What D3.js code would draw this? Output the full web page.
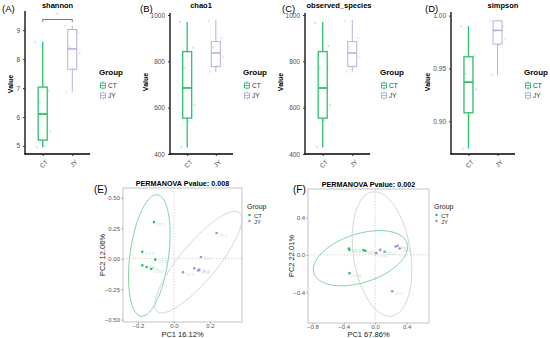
<!DOCTYPE html>
<html><head><meta charset="utf-8">
<script src="https://cdn.jsdelivr.net/npm/d3@7"></script>
<style>body{margin:0;background:#fff}svg{display:block;font-family:"Liberation Sans",Arial,sans-serif}</style>
</head><body><svg id="c" width="550" height="338"></svg>
<script>
const groups = ["CT","JY"];
const colCT = "#2fbf6b", colJY = "#b3a6d8";
// box stats: [lowWhisker, Q1, median, Q3, highWhisker]
const shannonStats = [[4.95,5.2,6.1,7.03,8.6],[6.85,7.65,8.35,9.02,9.15]];
const chao1Stats = [[428,555,685,842,970],[755,777,836,885,978]];
const observedStats = [[428,555,685,842,970],[755,777,836,885,978]];
const simpsonStats = [[0.874,0.908,0.937,0.961,0.990],[0.944,0.973,0.986,0.995,0.995]];
// jittered sample values and jitter offsets (in category units)
const shannonPts = [[8.6,6.9,6.5,5.5,5.0,4.95],[9.15,8.9,8.4,8.2,7.65,6.85]];
const chao1Pts = [[970,860,770,610,540,430],[975,900,860,820,780,755]];
const observedPts = [[965,865,770,610,545,430],[975,900,860,820,780,755]];
const simpsonPts = [[0.990,0.962,0.945,0.93,0.905,0.874],[0.995,0.99,0.985,0.978,0.972,0.944]];
const jitterOff = [-0.25,0.2,-0.1,0.25,0.05,-0.2];
const shannonTicks = [5,6,7,8,9];
const chaoTicks = [400,600,800,1000];
const simpsonTicks = [0.90,0.95,1.00];

// PCoA
const eCT = [[-0.111,0.30],[-0.176,0.057],[-0.104,-0.008],[-0.176,-0.055],[-0.152,-0.068],[-0.126,-0.085]];
const eJY = [[0.237,0.21],[0.15,0.014],[0.113,-0.079],[0.135,-0.098],[0.05,-0.112],[0.14,-0.09]];
const fCT = [[-0.336,0.068],[-0.328,0.053],[-0.149,0.05],[-0.123,0.043],[0.119,0.032],[-0.328,-0.196]];
const fJY = [[0.064,0.053],[0.26,0.089],[0.285,0.096],[0.31,0.068],[0.217,-0.39],[0.013,0.018]];
// ellipses: [centerX, centerY, Ax, Ay, Bx, By]
const eEllCT = [-0.137,0.026,0.041,0.499,0.108,0];
const eEllJY = [0.135,-0.029,0.204,0.417,0.13,0];
const fEllCT = [-0.187,-0.036,0.6,0.12,0,0.27];
const fEllJY = [0.087,0.009,-0.096,0.667,0.367,0];
const eXTicks = [-0.2,0.0,0.2], eYTicks = [-0.50,-0.25,0.00,0.25,0.50];
const fXTicks = [-0.8,-0.4,0.0,0.4], fYTicks = [-0.4,0.0,0.4];

const svg = d3.select("#c");

function boxPanel(o){
  const g = svg.append("g");
  const x = d3.scalePoint().domain(groups).range([o.x0,o.x1]).padding(0.6);
  const y = d3.scaleLinear().domain(o.dom).range([154,o.top]);
  o.pts.forEach((arr,gi)=>{
    arr.forEach((v,i)=>{
      g.append("circle").attr("cx",x(groups[gi])+jitterOff[i]*x.step()).attr("cy",y(v)).attr("r",1.2)
       .attr("fill",gi?colJY:colCT).attr("opacity",0.25);
    });
  });
  const bw = 9;
  o.stats.forEach((s,gi)=>{
    const cx = x(groups[gi]), col = gi?colJY:colCT, sw = gi?0.9:1.3;
    g.append("line").attr("x1",cx).attr("x2",cx).attr("y1",y(s[0])).attr("y2",y(s[1])).attr("stroke",col).attr("stroke-width",sw);
    g.append("line").attr("x1",cx).attr("x2",cx).attr("y1",y(s[3])).attr("y2",y(s[4])).attr("stroke",col).attr("stroke-width",sw);
    g.append("rect").attr("x",cx-bw/2).attr("y",y(s[3])).attr("width",bw).attr("height",y(s[1])-y(s[3]))
      .attr("fill","#fff").attr("fill-opacity",0).attr("stroke",col).attr("stroke-width",sw);
    g.append("line").attr("x1",cx-bw/2).attr("x2",cx+bw/2).attr("y1",y(s[2])).attr("y2",y(s[2])).attr("stroke",col).attr("stroke-width",sw+0.5);
  });
  const ya = g.append("g").attr("transform",`translate(${o.x0},0)`).call(d3.axisLeft(y).tickValues(o.ticks).tickSize(2).tickFormat(o.fmt));
  ya.select(".domain").attr("stroke","#000").attr("stroke-width",1.3).attr("d",`M0,${o.top-2}V154.5`);
  ya.selectAll(".tick line").attr("stroke","#333");
  ya.selectAll(".tick text").attr("font-size",6.5).attr("fill","#4d4d4d").attr("font-family","Liberation Sans, Arial");
  const xa = g.append("g").attr("transform","translate(0,154)").call(d3.axisBottom(x).tickSize(2));
  xa.select(".domain").attr("stroke","#000").attr("stroke-width",1.3).attr("d",`M${o.x0-0.5},0H${o.x1}`);
  xa.selectAll(".tick line").attr("stroke","#333");
  xa.selectAll(".tick text").attr("font-size",6.5).attr("fill","#4d4d4d").attr("font-family","Liberation Sans, Arial")
    .attr("text-anchor","end").attr("dy",null).attr("y",0).attr("transform","translate(2,5) rotate(-45)").attr("dominant-baseline","hanging");
  g.append("text").attr("x",o.tx).attr("y",8).attr("text-anchor","middle").attr("font-size",7.5).attr("font-weight","bold").text(o.title);
  g.append("text").attr("x",o.lx).attr("y",11.5).attr("font-size",9.5).text(o.letter);
  g.append("text").attr("transform",`translate(${o.vx},${o.vy}) rotate(-90)`).attr("text-anchor","middle").attr("font-size",7).attr("font-weight","bold").text("Value");
  g.append("text").attr("x",o.gx).attr("y",75).attr("font-size",8).attr("font-weight","bold").text("Group");
  groups.forEach((k,i)=>{
    const col = i?colJY:colCT, yy = 82+i*10;
    g.append("rect").attr("x",o.gx+1.5).attr("y",yy+1).attr("width",5).attr("height",5).attr("fill","none").attr("stroke",col).attr("stroke-width",0.9);
    g.append("line").attr("x1",o.gx+1.5).attr("x2",o.gx+6.5).attr("y1",yy+3.5).attr("y2",yy+3.5).attr("stroke",col).attr("stroke-width",0.9);
    g.append("line").attr("x1",o.gx+4).attr("x2",o.gx+4).attr("y1",yy-0.5).attr("y2",yy+1).attr("stroke",col).attr("stroke-width",0.9);
    g.append("line").attr("x1",o.gx+4).attr("x2",o.gx+4).attr("y1",yy+6).attr("y2",yy+7.5).attr("stroke",col).attr("stroke-width",0.9);
    g.append("text").attr("x",o.gx+9).attr("y",yy+6).attr("font-size",6.5).attr("fill","#333").text(k);
  });
  return {g,x,y};
}

const A = boxPanel({x0:25,x1:90,top:13,dom:[4.72,9.59],ticks:shannonTicks,fmt:d3.format("d"),stats:shannonStats,pts:shannonPts,title:"shannon",tx:57.5,letter:"(A)",lx:2,vx:13,vy:84,gx:99});
A.g.append("path").attr("d",`M${A.x("CT")},22V19.5H${A.x("JY")}V22`).attr("fill","none").attr("stroke","#444").attr("stroke-width",0.7);
A.g.append("text").attr("x",(A.x("CT")+A.x("JY"))/2).attr("y",16).attr("text-anchor","middle").attr("font-size",7).attr("fill","#333").text("·");
boxPanel({x0:170,x1:233,top:15,dom:[400,1000],ticks:chaoTicks,fmt:d3.format("d"),stats:chao1Stats,pts:chao1Pts,title:"chao1",tx:201,letter:"(B)",lx:140,vx:148,vy:82,gx:243});
boxPanel({x0:305,x1:370,top:15,dom:[400,1000],ticks:chaoTicks,fmt:d3.format("d"),stats:observedStats,pts:observedPts,title:"observed_species",tx:339,letter:"(C)",lx:282,vx:283,vy:82,gx:380});
boxPanel({x0:451,x1:515,top:14,dom:[0.869,1.0015],ticks:simpsonTicks,fmt:d3.format(".2f"),stats:simpsonStats,pts:simpsonPts,title:"simpson",tx:503,letter:"(D)",lx:425,vx:430,vy:82,gx:524});

function pcoaPanel(o){
  const g = svg.append("g");
  const x = d3.scaleLinear().domain(o.xd).range([o.l,o.r]);
  const y = d3.scaleLinear().domain(o.yd).range([o.b,o.t]);
  g.append("rect").attr("x",o.l).attr("y",o.t).attr("width",o.r-o.l).attr("height",o.b-o.t).attr("fill","#fff").attr("stroke","#b5b5b5").attr("stroke-width",0.8);
  g.append("line").attr("x1",x(0)).attr("x2",x(0)).attr("y1",o.t).attr("y2",o.b).attr("stroke","#bbb").attr("stroke-width",0.6).attr("stroke-dasharray","1.5,1.5");
  g.append("line").attr("x1",o.l).attr("x2",o.r).attr("y1",y(0)).attr("y2",y(0)).attr("stroke","#bbb").attr("stroke-width",0.6).attr("stroke-dasharray","1.5,1.5");
  const line = d3.line().x(d=>x(d[0])).y(d=>y(d[1])).curve(d3.curveLinearClosed);
  [[o.ellCT,"#6fcf95"],[o.ellJY,"#d0d0d0"]].forEach(([e,c])=>{
    const ptsE = d3.range(120).map(i=>{const t=i/120*2*Math.PI;return [e[0]+Math.cos(t)*e[2]+Math.sin(t)*e[4], e[1]+Math.cos(t)*e[3]+Math.sin(t)*e[5]];});
    g.append("path").attr("d",line(ptsE)).attr("fill","none").attr("stroke",c).attr("stroke-width",0.9);
  });
  [[o.ct,colCT,"#a8e0bf","CT"],[o.jy,"#a493cf","#d6cdea","JY"]].forEach(([arr,c,lc,nm])=>{
    arr.forEach((p,i)=>{
      g.append("text").attr("x",x(p[0])+3).attr("y",y(p[1])+3.5).attr("font-size",4).attr("fill",lc).text(nm+"-"+(i+1));
      g.append("circle").attr("cx",x(p[0])).attr("cy",y(p[1])).attr("r",1.3).attr("fill",c);
    });
  });
  const xa = g.append("g").attr("transform",`translate(0,${o.b})`).call(d3.axisBottom(x).tickValues(o.xt).tickSize(1.5).tickFormat(d3.format(".1f")));
  xa.select(".domain").remove();
  xa.selectAll(".tick line").attr("stroke","#999");
  xa.selectAll(".tick text").attr("font-size",6).attr("fill","#555").attr("y",2);
  const ya = g.append("g").attr("transform",`translate(${o.l},0)`).call(d3.axisLeft(y).tickValues(o.yt).tickSize(1.5).tickFormat(d3.format(o.yf)));
  ya.select(".domain").remove();
  ya.selectAll(".tick line").attr("stroke","#999");
  ya.selectAll(".tick text").attr("font-size",6).attr("fill","#555").attr("x",-3);
  g.append("text").attr("x",(o.l+o.r)/2).attr("y",o.t-2).attr("text-anchor","middle").attr("font-size",7.2).attr("font-weight","bold").text(o.title);
  g.append("text").attr("x",o.lx).attr("y",193).attr("font-size",10).text(o.letter);
  g.append("text").attr("x",(o.l+o.r)/2).attr("y",337).attr("text-anchor","middle").attr("font-size",7.5).attr("fill","#222").text(o.xl);
  g.append("text").attr("transform",`translate(${o.yx},${(o.t+o.b)/2}) rotate(-90)`).attr("text-anchor","middle").attr("font-size",7.5).attr("fill","#222").text(o.yl);
  g.append("text").attr("x",o.gx).attr("y",209).attr("font-size",7).attr("fill","#222").text("Group");
  groups.forEach((k,i)=>{
    g.append("circle").attr("cx",o.gx+2.5).attr("cy",215+i*6).attr("r",1.3).attr("fill",i?"#a493cf":colCT);
    g.append("text").attr("x",o.gx+7).attr("y",217.5+i*6).attr("font-size",6).attr("fill","#333").text(k);
  });
}
pcoaPanel({l:123,r:242,t:188,b:322,xd:[-0.283,0.378],yd:[-0.52,0.58],xt:eXTicks,yt:eYTicks,yf:".2f",ct:eCT,jy:eJY,ellCT:eEllCT,ellJY:eEllJY,title:"PERMANOVA Pvalue: 0.008",letter:"(E)",lx:94,xl:"PC1 16.12%",yl:"PC2 12.06%",yx:105,gx:247});
pcoaPanel({l:308,r:429,t:189,b:323,xd:[-0.855,0.685],yd:[-0.73,0.705],xt:fXTicks,yt:fYTicks,yf:".1f",ct:fCT,jy:fJY,ellCT:fEllCT,ellJY:fEllJY,title:"PERMANOVA Pvalue: 0.002",letter:"(F)",lx:293,xl:"PC1 67.86%",yl:"PC2 22.01%",yx:294,gx:434});
</script></body></html>
